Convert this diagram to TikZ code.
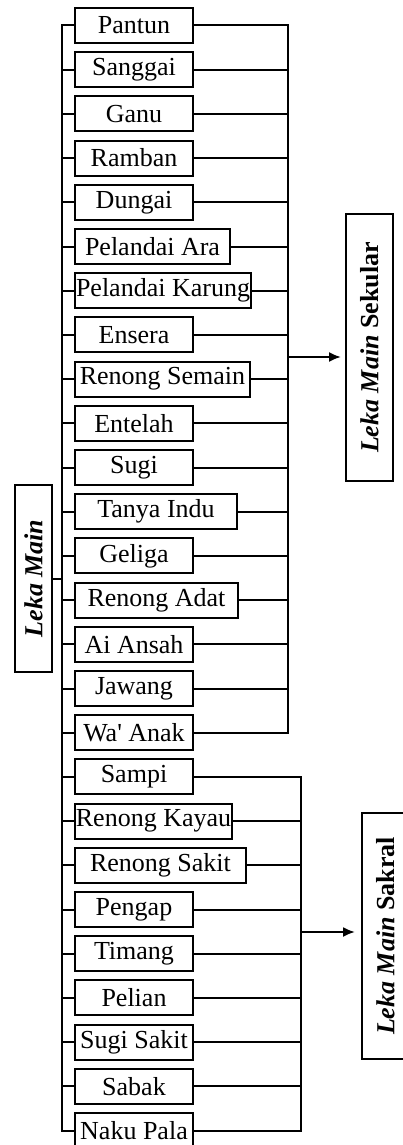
\documentclass[tikz,border=0pt]{standalone}
\usepackage{fontspec}
\setmainfont{Liberation Serif}
\usetikzlibrary{positioning,arrows.meta}

\begin{document}
\begin{tikzpicture}[x=1pt, y=-1pt, line width=2pt,
  font=\fontsize{26}{30}\selectfont,
  item/.style={draw, inner sep=0pt, minimum height=35pt, anchor=west},
  group/.style={draw, rotate=90, inner sep=0pt, minimum height=47pt, font=\fontsize{26}{30}\selectfont\bfseries},
  arr/.style={-{Latex[length=12pt,width=10pt]}}]
  \useasboundingbox (0,0) rectangle (403,1145);

  % root
  \node[group, minimum width=187pt, minimum height=37pt] (root) at (33.5,578.5) {\textit{Leka Main}};

  % items
  \foreach \i/\txt/\w in {1/Pantun/118, 2/Sanggai/118, 3/Ganu/118, 4/Ramban/118, 5/Dungai/118,
      6/Pelandai Ara/155, 7/Pelandai Karung/176, 8/Ensera/118, 9/Renong Semain/175,
      10/Entelah/118, 11/Sugi/118, 12/Tanya Indu/162, 13/Geliga/118, 14/Renong Adat/163,
      15/Ai Ansah/118, 16/Jawang/118, 17/{Wa\textquotesingle{} Anak}/118, 18/Sampi/118,
      19/Renong Kayau/157, 20/Renong Sakit/171, 21/Pengap/118, 22/Timang/118,
      23/Pelian/118, 24/Sugi Sakit/118, 25/Sabak/118, 26/Naku Pala/118} {
    \node[item, minimum width=\w] (b\i) at (74, 25.5+44.2*\i-44.2) {\txt};
  }

  % left trunk
  \coordinate (trunk) at (62,0);
  \draw (b1.west) -| (b26.west -| trunk) -- (b26.west);
  \foreach \i in {2,...,25}
    \draw (b\i.west) -- (b\i.west -| trunk);
  \draw (root.south) -- (root.south -| trunk);

  % sekular
  \coordinate (secbus) at (288,0);
  \draw (b1.east) -| (b17.east -| secbus) -- (b17.east);
  \foreach \i in {2,...,16}
    \draw (b\i.east) -- (b\i.east -| secbus);
  \node[group, minimum width=267pt] (sekular) at (369.5,347.5) {\textit{Leka Main} Sekular};
  \coordinate (secout) at (288,357);
  \draw[arr, shorten >=4pt] (secout) -- (secout -| sekular.north);

  % sakral
  \coordinate (sacbus) at (301,0);
  \draw (b18.east) -| (b26.east -| sacbus) -- (b26.east);
  \foreach \i in {19,...,25}
    \draw (b\i.east) -- (b\i.east -| sacbus);
  \node[group, minimum width=246pt] (sakral) at (385.5,936) {\textit{Leka Main} Sakral};
  \coordinate (sacout) at (301,932);
  \draw[arr, shorten >=6pt] (sacout) -- (sacout -| sakral.north);
\end{tikzpicture}
\end{document}
